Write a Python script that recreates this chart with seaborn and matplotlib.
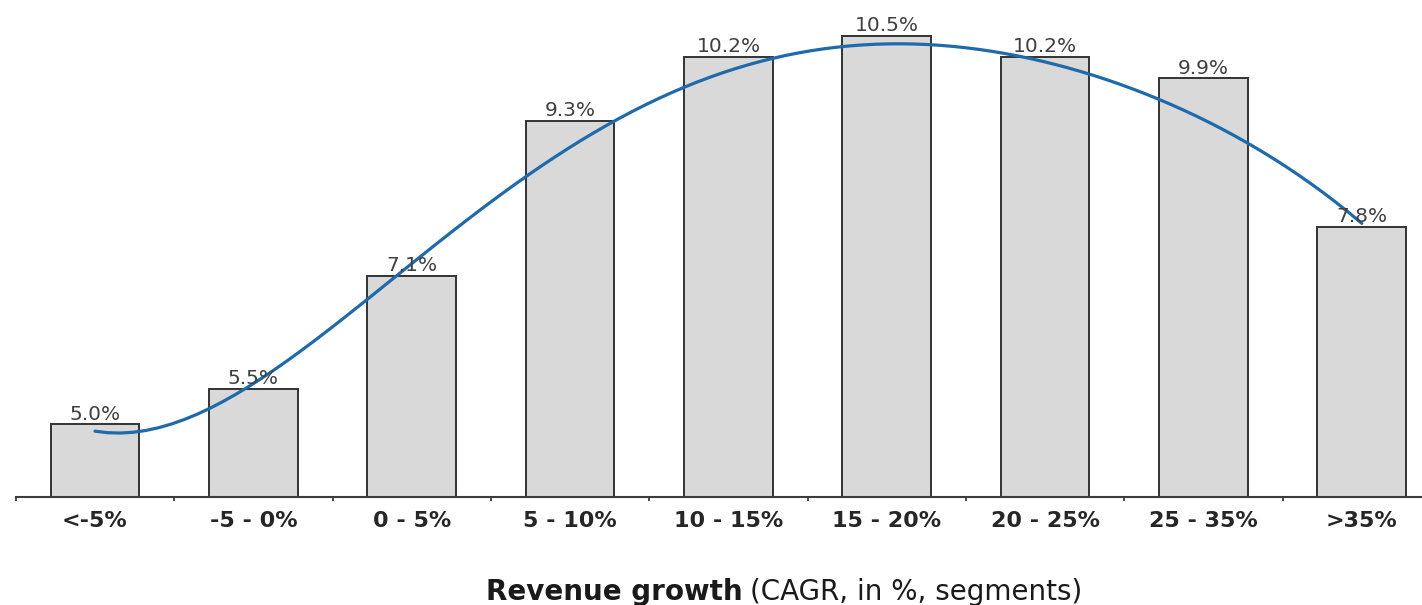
import numpy as np
import pandas as pd
import matplotlib
matplotlib.use("Agg")
import matplotlib.pyplot as plt
import seaborn as sns
from matplotlib.ticker import FixedLocator

# Revenue growth segments and share of companies per segment (%)
segments = ["<-5%", "-5 - 0%", "0 - 5%", "5 - 10%", "10 - 15%",
            "15 - 20%", "20 - 25%", "25 - 35%", ">35%"]
share = [5.0, 5.5, 7.1, 9.3, 10.2, 10.5, 10.2, 9.9, 7.8]
# smoothed trend level at each segment
trend = [4.9, 5.6, 7.2, 9.05, 9.9, 10.42, 10.15, 9.3, 7.85]

sns.set_theme(style="white")
plt.rcParams["font.family"] = ["DejaVu Sans"]

W, H = 1422, 605
fig = plt.figure(figsize=(W / 100, H / 100), dpi=100)
ax = fig.add_axes([15.8 / W, 1 - 496.7 / H, 1 - 15.8 / W, 496.7 / H])

df = pd.DataFrame({"segment": segments, "share": share})
sns.barplot(data=df, x="segment", y="share", order=segments,
            color="#d9d9d9", saturation=1, width=0.56,
            edgecolor="#333333", linewidth=1.4, ax=ax)

ax.bar_label(ax.containers[0], labels=[f"{v:.1f}%" for v in share],
             padding=0.5, fontsize=14.5, color="#404040")

pos = np.arange(len(segments))
sns.regplot(x=pos, y=trend, order=5, ci=None, scatter=False, ax=ax,
            line_kws=dict(color="#1f6aaa", lw=2.3, solid_capstyle="round"))

ax.set_xlim(-0.5, 8.38)
ax.set_ylim(3.975, 11.01)
ax.set_xlabel("")
ax.set_ylabel("")
ax.set_yticks([])

for side in ("left", "top", "right"):
    ax.spines[side].set_visible(False)
ax.spines["bottom"].set_color("#3c3c3c")
ax.spines["bottom"].set_linewidth(1.5)

ax.set_xticks(pos)
ax.set_xticklabels(segments, fontsize=16, fontweight="bold", color="#262626")
ax.tick_params(axis="x", which="major", length=0, pad=10)
ax.xaxis.set_minor_locator(FixedLocator(np.arange(-0.5, len(segments), 1)))
ax.tick_params(axis="x", which="minor", bottom=True, length=3, width=1.3,
               color="#3c3c3c", direction="out")

ybase = 1 - 600 / H
fig.text(743 / W, ybase, "Revenue growth", ha="right", va="baseline",
         fontsize=20, fontweight="bold", color="#1a1a1a")
fig.text(750 / W, ybase, "(CAGR, in %, segments)", ha="left", va="baseline",
         fontsize=20, color="#1a1a1a")

fig.savefig("out.png", dpi=100)
